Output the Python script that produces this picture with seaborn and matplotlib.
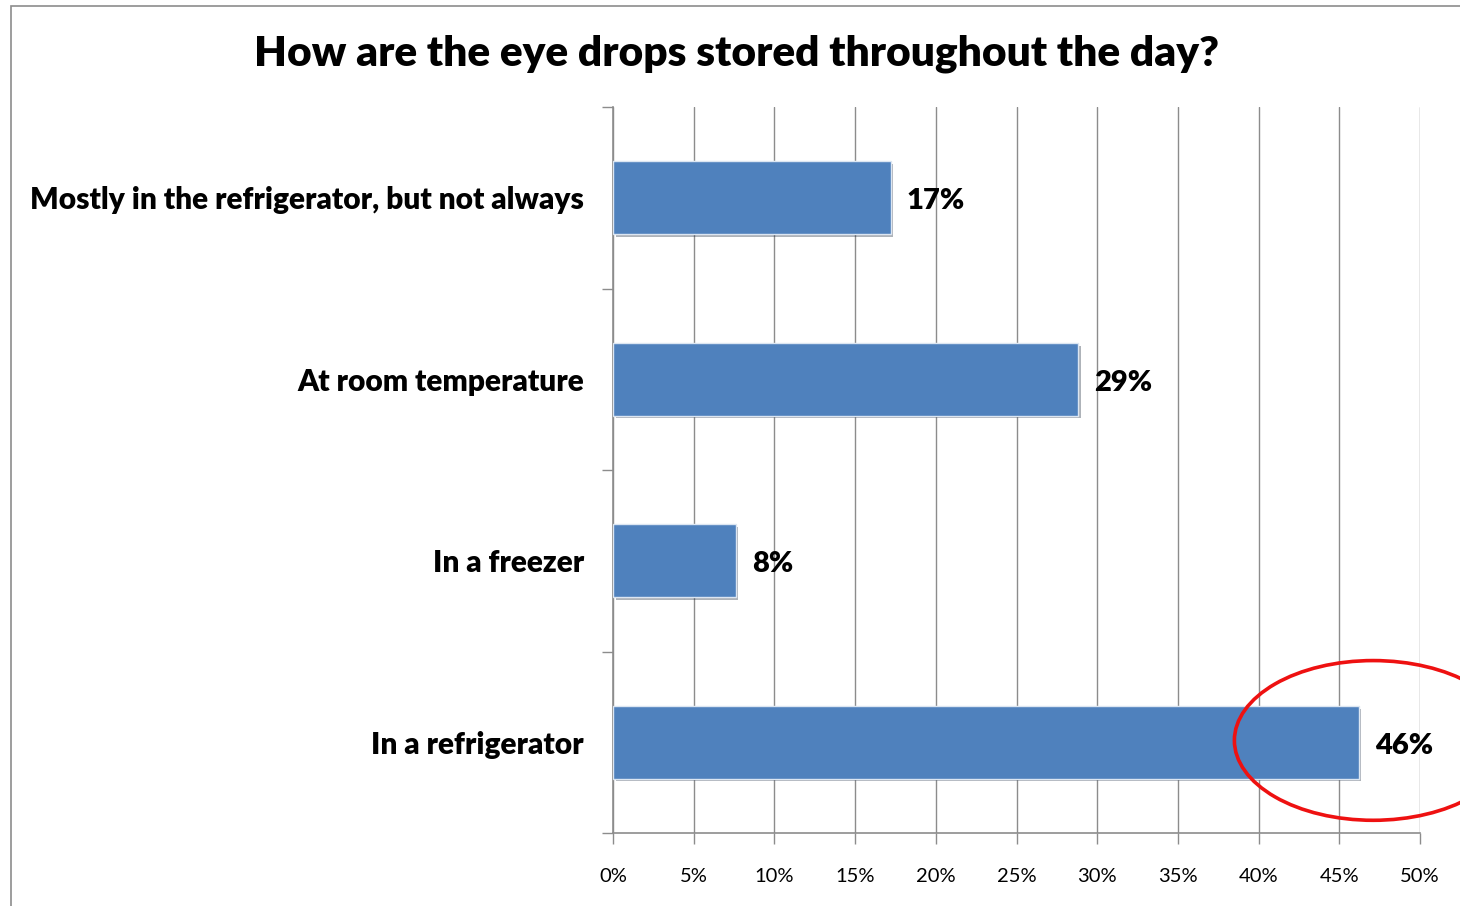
import matplotlib
matplotlib.use("Agg")
import matplotlib.pyplot as plt
import matplotlib.patheffects as pe
from matplotlib.patches import Ellipse, Rectangle
import pandas as pd
import seaborn as sns

categories = [
    "Mostly in the refrigerator, but not always",
    "At room temperature",
    "In a freezer",
    "In a refrigerator",
]
shares = [17.2, 28.8, 7.6, 46.2]
share_labels = ["17%", "29%", "8%", "46%"]
x_ticks = [0, 5, 10, 15, 20, 25, 30, 35, 40, 45, 50]

sns.set_style("white")
plt.rcParams["font.family"] = ["Lato", "DejaVu Sans"]
plt.rcParams["text.color"] = "black"
plt.rcParams["xtick.color"] = "black"
plt.rcParams["ytick.color"] = "black"

df = pd.DataFrame({"category": categories, "share": shares})

fig = plt.figure(figsize=(14.6, 9.06), dpi=100)
ax = fig.add_axes([613 / 1460, 1 - 833 / 906, 807 / 1460, 726 / 906])

# outer chart frame (runs off right/bottom edge like the screenshot)
fig.patches.append(Rectangle((11 / 1460, -0.05), 1.2, 1 - 6 / 906 + 0.05,
                             transform=fig.transFigure, fill=False,
                             edgecolor="#8c8c8c", linewidth=1.2))

sns.barplot(data=df, x="share", y="category", color="#4F81BD", width=0.4,
            saturation=1, edgecolor="#dce6f2", linewidth=1, ax=ax, zorder=3)
for bar in ax.patches:
    bar.set_path_effects([pe.SimplePatchShadow(offset=(2, -2), alpha=0.35),
                          pe.Normal()])

for i, (v, lab) in enumerate(zip(shares, share_labels)):
    ax.text(v + 1.0, i + 0.02, lab, va="center", ha="left",
            fontsize=21, fontweight="heavy", color="black")

ax.set_xlim(0, 50)
ax.set_ylim(3.5, -0.5)
ax.set_xticks(x_ticks)
ax.set_xticklabels([f"{t}%" for t in x_ticks], fontsize=14.5)
ax.set_yticks([-0.5, 0.5, 1.5, 2.5, 3.5], minor=False)
ax.set_yticklabels([])
ax.set_yticks(range(len(categories)), minor=True)
ax.set_yticklabels(categories, minor=True, fontsize=21.5, fontweight="heavy")
ax.tick_params(axis="y", which="minor", length=0, pad=21)
ax.tick_params(axis="y", which="major", length=8, width=1, color="#8c8c8c",
               direction="out", left=True)
ax.tick_params(axis="x", length=8, width=1, color="#8c8c8c", labelcolor="black",
               direction="out", bottom=True, pad=17)
ax.set_xlabel("")
ax.set_ylabel("")

ax.grid(axis="x", color="#8c8c8c", linewidth=1, zorder=0)
ax.set_axisbelow(True)
for s in ["top", "right"]:
    ax.spines[s].set_visible(False)
for s in ["left", "bottom"]:
    ax.spines[s].set_color("#8c8c8c")
    ax.spines[s].set_linewidth(1.2)

# red highlight around the largest share
ax.add_patch(Ellipse((47.1, 2.99), 17.2, 0.88, fill=False, edgecolor="#ee1111",
                     linewidth=2.6, clip_on=False, zorder=5))

fig.text(737 / 1460, 1 - 54 / 906, "How are the eye drops stored throughout the day?",
         ha="center", va="center", fontsize=30.5, fontweight="heavy")

fig.savefig("out.png", dpi=100)
